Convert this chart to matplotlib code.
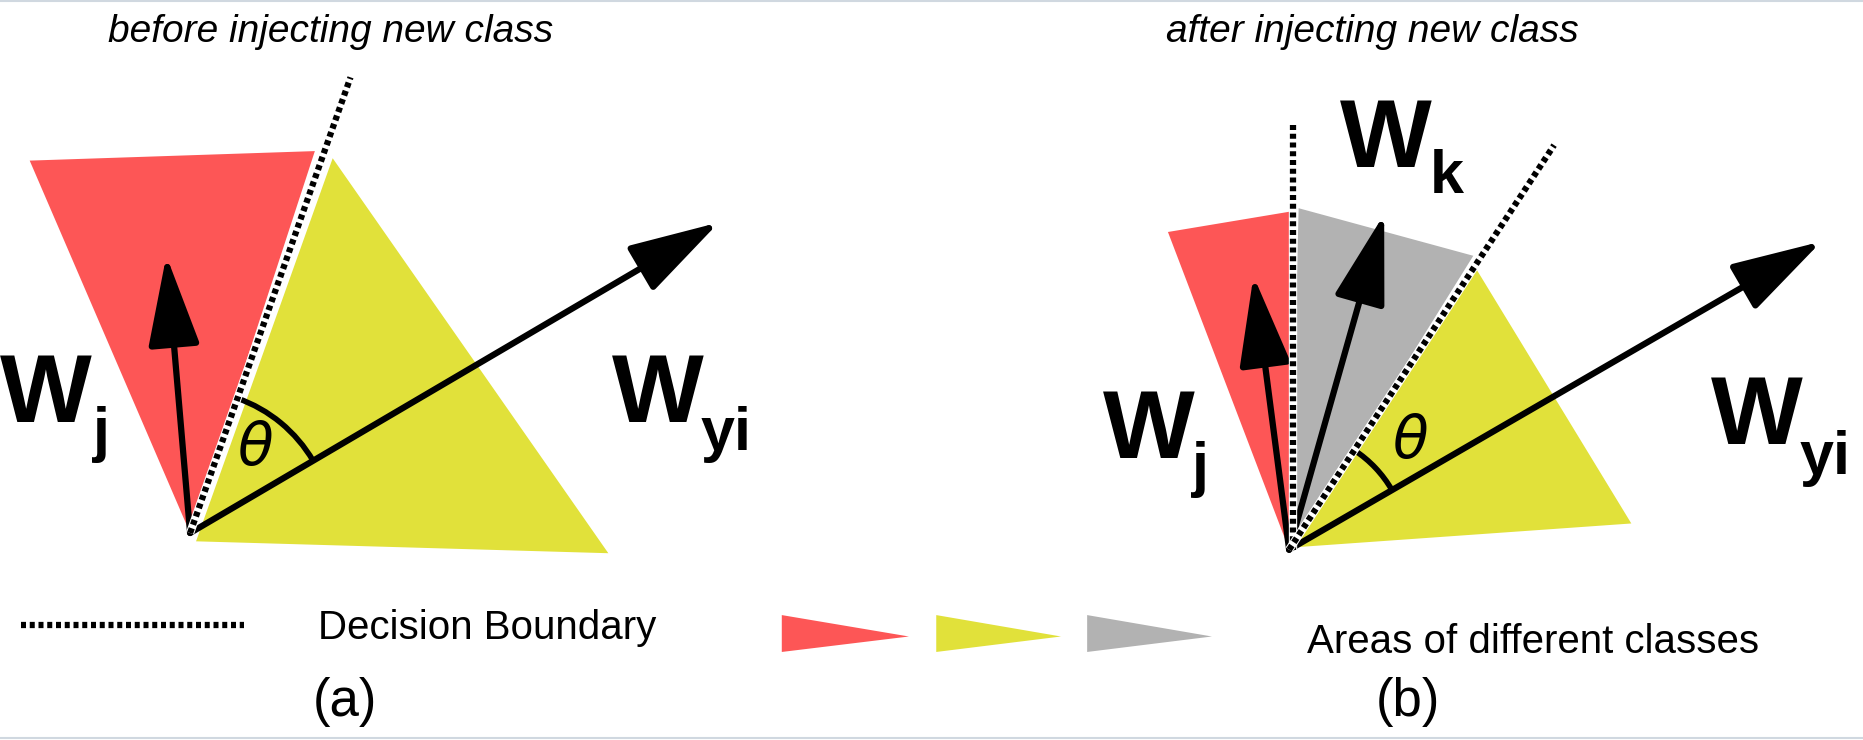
import matplotlib
matplotlib.use("Agg")
import matplotlib.pyplot as plt
from matplotlib.patches import Polygon, FancyArrowPatch, Arc
import numpy as np

plt.rcParams['font.family'] = ['Liberation Sans', 'DejaVu Sans']
plt.rcParams['mathtext.fontset'] = 'dejavusans'

RED, YEL, GRAY = "#fd5656", "#e1e13a", "#b2b2b2"
red_a = [(25,135),(265,127),(160,448)]
yel_a = [(280,133),(512,465),(165,455)]
red_b = [(983,195),(1085,178),(1085,462)]
gray_b = [(1093,175),(1240,215),(1086,462)]
yel_b = [(1240,222),(1373,440),(1090,460)]
bound_a = [((160,448),(295,65))]
bound_b = [((1088,462),(1088,105)),((1085,462),(1308,122))]
arrows_a = [((160,448),(605,187)),((160,448),(140,215))]
arrows_b = [((1085,462),(1533,203)),((1085,462),(1055,232)),((1085,462),(1165,180))]
legend_tri = [((658,517),(765,535),(658,548),RED),((788,517),(893,535),(788,548),YEL),((915,517),(1020,535),(915,548),GRAY)]

fig = plt.figure(figsize=(18.63,7.40), dpi=100)
ax = fig.add_axes([0,0,1,1])
ax.set_xlim(0,1568); ax.set_ylim(622,0); ax.axis("off")

for pts,c in [(red_a,RED),(yel_a,YEL),(red_b,RED),(gray_b,GRAY),(yel_b,YEL)]:
    ax.add_patch(Polygon(pts, closed=True, color=c, lw=0))
for a,b,c2,c in legend_tri:
    ax.add_patch(Polygon([a,b,c2], closed=True, color=c, lw=0))
for (p,q) in bound_a+bound_b:
    ax.plot([p[0],q[0]],[p[1],q[1]], color="white", lw=6, solid_capstyle="butt")
    ax.plot([p[0],q[0]],[p[1],q[1]], color="black", lw=4.5, ls=(0,(0.8,0.6)))
ax.plot([18,205],[525,525], color="black", lw=4.5, ls=(0,(0.8,0.6)))
for (p,q) in arrows_a+arrows_b:
    ax.add_patch(FancyArrowPatch(p,q, arrowstyle="-|>,head_length=2.8,head_width=0.8",
                                 mutation_scale=20, lw=4.5, color="black", shrinkA=0, shrinkB=0))

def ang(p,q):
    return np.degrees(np.arctan2(-(q[1]-p[1]), q[0]-p[0]))
o=(160,448)
ax.add_patch(Arc(o, 240, 240, theta1=-ang(o,(295,65)), theta2=-ang(o,(605,187)), lw=4, color="black"))
o=(1085,462)
ax.add_patch(Arc(o, 200, 200, theta1=-ang(o,(1308,122)), theta2=-ang(o,(1533,203)), lw=4, color="black"))

bold = dict(fontweight="bold", color="black")
ax.text(0,355,"W",fontsize=70,**bold); ax.text(78,378,"j",fontsize=44,**bold)
ax.text(515,355,"W",fontsize=70,**bold); ax.text(590,378,"yi",fontsize=44,**bold)
ax.text(928,385,"W",fontsize=70,**bold); ax.text(1003,408,"j",fontsize=44,**bold)
ax.text(1128,140,"W",fontsize=70,**bold); ax.text(1203,162,"k",fontsize=44,**bold)
ax.text(1440,373,"W",fontsize=70,**bold); ax.text(1515,398,"yi",fontsize=44,**bold)
ax.text(215,378,r"$\theta$",fontsize=42,ha="center",va="center")
ax.text(1187,372,r"$\theta$",fontsize=42,ha="center",va="center")
ax.text(278,27,"before injecting new class",fontsize=28,style="italic",ha="center",va="center")
ax.text(1155,27,"after injecting new class",fontsize=28,style="italic",ha="center",va="center")
ax.text(410,528,"Decision Boundary",fontsize=29,ha="center",va="center")
ax.text(1290,540,"Areas of different classes",fontsize=29,ha="center",va="center")
ax.text(290,590,"(a)",fontsize=38,ha="center",va="center")
ax.text(1185,590,"(b)",fontsize=38,ha="center",va="center")
ax.plot([0,1568],[1,1],color="#d0d8e0",lw=1.5)
ax.plot([0,1568],[620,620],color="#d0d8e0",lw=1.5)
fig.savefig("out.png", dpi=100)
